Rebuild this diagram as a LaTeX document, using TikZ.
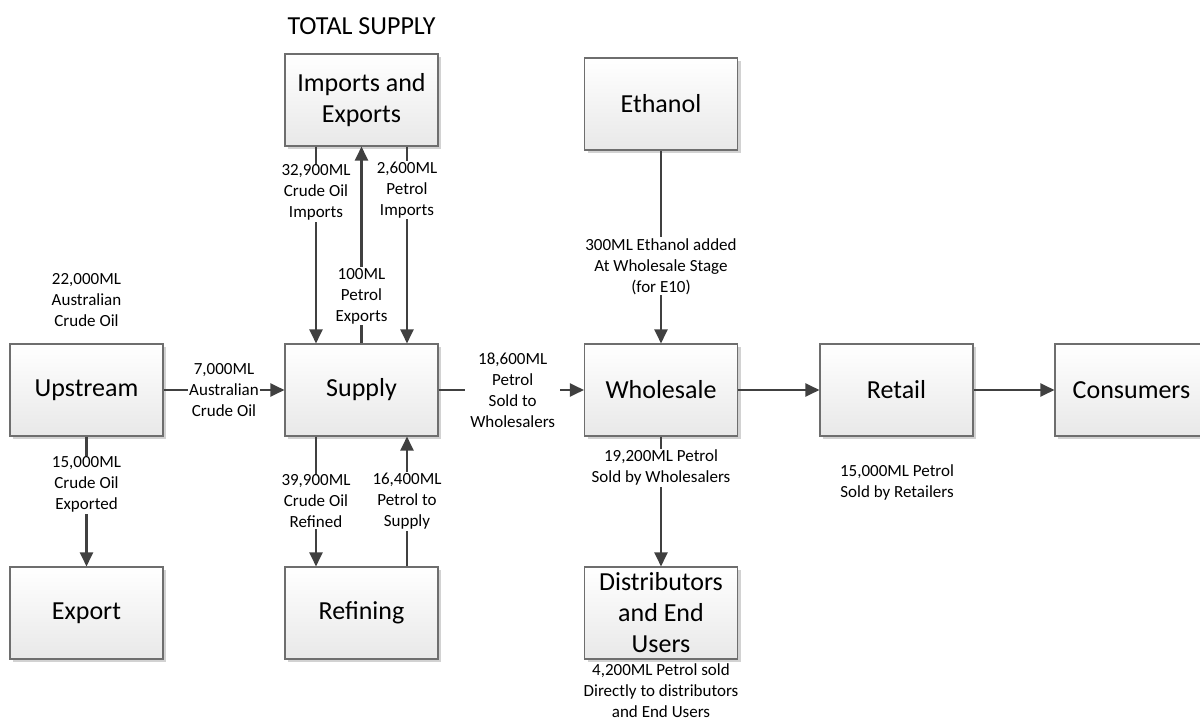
\documentclass[tikz,border=0pt]{standalone}
\usepackage{fontspec}
\setmainfont{Carlito}
\usepackage{xcolor}
\usepackage{tikz}
\usetikzlibrary{arrows.meta,shadows}
\definecolor{flowgray}{HTML}{404040}
\definecolor{edgegray}{HTML}{6E6E6E}

\begin{document}
\begin{tikzpicture}[x=1pt,y=-1pt,
  box/.style={draw=edgegray,line width=1.1pt,top color=white,bottom color=gray!18,
    minimum width=153pt,minimum height=92pt,align=center,inner sep=2pt,
    font=\fontsize{26}{31}\selectfont,
    drop shadow={shadow xshift=3pt,shadow yshift=-3pt,fill=gray!35,opacity=1}},
  flow/.style={draw=flowgray,line width=2.2pt,-{Triangle[length=14pt,width=13pt]}},
  lbl/.style={fill=white,inner sep=1pt,align=center,font=\fontsize{17}{21}\selectfont},
  note/.style={align=center,font=\fontsize{17}{21}\selectfont}]
\useasboundingbox (0,0) rectangle (1200,722);
\node[box] (upstream) at (86.5,390) {Upstream};
\node[box] (supply) at (361.5,390) {Supply};
\node[box] (imports) at (361.5,100) {Imports and\\Exports};
\node[box] (export) at (86.5,613) {Export};
\node[box] (refining) at (361.5,613) {Refining};
\node[box] (ethanol) at (661,104) {Ethanol};
\node[box] (wholesale) at (661,390) {Wholesale};
\node[box] (distrib) at (661,613) {Distributors\\and End\\Users};
\node[box] (retail) at (896.5,390) {Retail};
\node[box] (consumers) at (1131.5,390) {Consumers};
\node[font=\fontsize{26}{30}\selectfont] (total) at (361.5,26) {TOTAL SUPPLY};
\node[note] (ausoil) at (86.5,300) {22,000ML\\Australian\\Crude Oil};
\node[note] (retailnote) at (897,482) {15,000ML Petrol\\Sold by Retailers};
\node[note] (distnote) at (661,691) {4,200ML Petrol sold\\Directly to distributors\\and End Users};
\draw[flow] (upstream) -- (supply) node[lbl,pos=0.5] {7,000ML\\Australian\\Crude Oil};
\draw[flow] (upstream) -- (export) node[lbl,pos=0.37] {15,000ML\\Crude Oil\\Exported};
\draw[flow] ([xshift=-45.5pt]imports.south) -- ([xshift=-45.5pt]supply.north)
  node[lbl,pos=0.235] {32,900ML\\Crude Oil\\Imports};
\draw[flow] (supply) -- (imports) node[lbl,pos=0.24] {100ML\\Petrol\\Exports};
\draw[flow] ([xshift=45.5pt]imports.south) -- ([xshift=45.5pt]supply.north)
  node[lbl,pos=0.22] {2,600ML\\Petrol\\Imports};
\draw[flow] ([xshift=-45.5pt]supply.south) -- ([xshift=-45.5pt]refining.north)
  node[lbl,pos=0.5] {39,900ML\\Crude Oil\\Refined};
\draw[flow] ([xshift=45.5pt]refining.north) -- ([xshift=45.5pt]supply.south)
  node[lbl,pos=0.5] {16,400ML\\Petrol to\\Supply};
\draw[flow] (supply) -- (wholesale) node[lbl,pos=0.51,inner xsep=5pt] {18,600ML\\Petrol\\Sold to\\Wholesalers};
\draw[flow] (ethanol) -- (wholesale) node[lbl,pos=0.6] {300ML Ethanol added\\At Wholesale Stage\\(for E10)};
\draw[flow] (wholesale) -- (distrib) node[lbl,pos=0.24] {19,200ML Petrol\\Sold by Wholesalers};
\draw[flow] (wholesale) -- (retail);
\draw[flow] (retail) -- (consumers);
\end{tikzpicture}
\end{document}
